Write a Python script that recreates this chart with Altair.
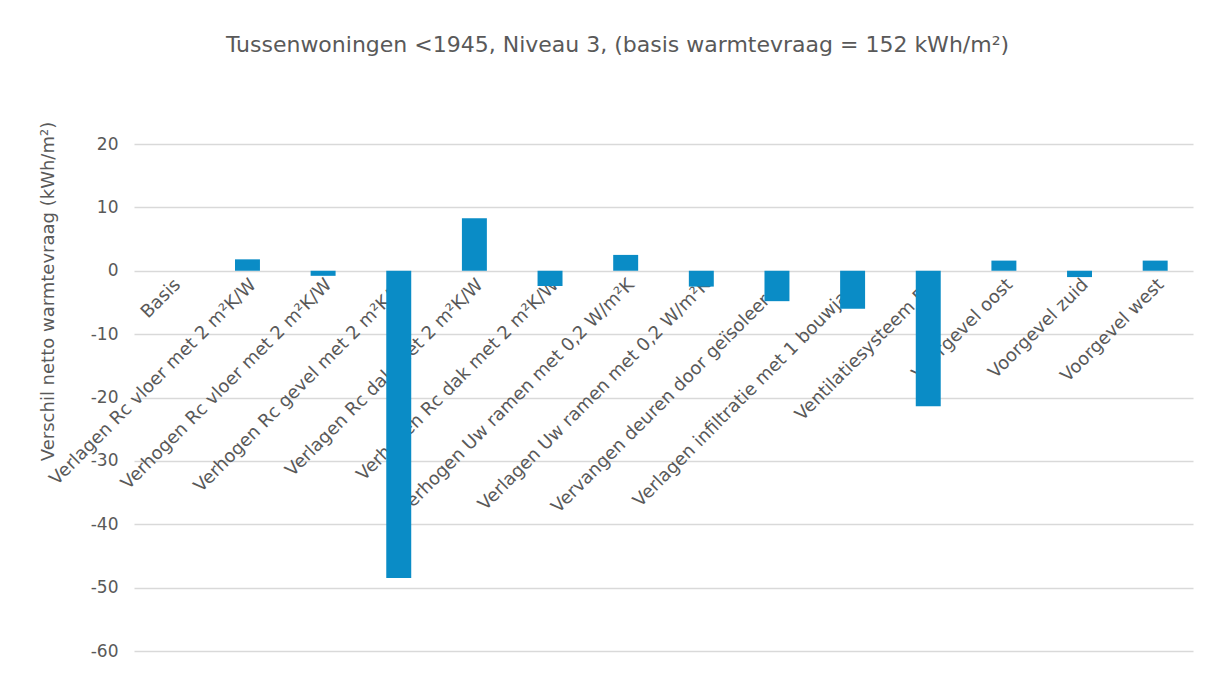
import altair as alt
import pandas as pd

categories = [
    "Basis",
    "Verlagen Rc vloer met 2 m²K/W",
    "Verhogen Rc vloer met 2 m²K/W",
    "Verhogen Rc gevel met 2 m²K/W",
    "Verlagen Rc dak met 2 m²K/W",
    "Verhogen Rc dak met 2 m²K/W",
    "Verhogen Uw ramen met 0,2 W/m²K",
    "Verlagen Uw ramen met 0,2 W/m²K",
    "Vervangen deuren door geïsoleerde",
    "Verlagen infiltratie met 1 bouwjaar",
    "Ventilatiesysteem D3",
    "Voorgevel oost",
    "Voorgevel zuid",
    "Voorgevel west",
]
values = [0, 1.8, -0.8, -48.5, 8.3, -2.4, 2.5, -2.5, -4.8, -6.0, -21.4, 1.6, -1.0, 1.6]
y_ticks = [-60, -50, -40, -30, -20, -10, 0, 10, 20]

df = pd.DataFrame({"maatregel": categories, "verschil": values})

W, H = 1059, 507
GRAY = "#595959"
FONT = "DejaVu Sans"

chart = alt.Chart(df).mark_bar(color="#0A8CC6").encode(
    x=alt.X(
        "maatregel:N",
        sort=None,
        scale=alt.Scale(paddingInner=0.67, paddingOuter=0.335),
        axis=alt.Axis(
            title=None,
            labelAngle=-45,
            labelAlign="right",
            labelBaseline="middle",
            offset=-H * 60 / 80,
            domain=False,
            ticks=False,
            labelPadding=11,
            labelOffset=6,
            labelFontSize=18,
            labelColor=GRAY,
            labelFont=FONT,
            labelLimit=0,
            labelOverlap=False,
        ),
    ),
    y=alt.Y(
        "verschil:Q",
        scale=alt.Scale(domain=[-60, 20], nice=False, zero=False),
        axis=alt.Axis(
            values=y_ticks,
            title="Verschil netto warmtevraag (kWh/m²)",
            grid=True,
            gridColor="#D9D9D9",
            gridWidth=1.5,
            domain=False,
            ticks=False,
            labelPadding=16,
            labelFontSize=17,
            labelColor=GRAY,
            labelFont=FONT,
            labelExpr="replace(datum.label, '−', '-')",
            titleFontSize=18,
            titleFontWeight="normal",
            titleColor=GRAY,
            titleFont=FONT,
            titleX=-86,
            titleY=147,
            titleAlign="center",
            titleBaseline="middle",
        ),
    ),
).properties(
    width=W,
    height=H,
    title=alt.TitleParams(
        "Tussenwoningen <1945, Niveau 3, (basis warmtevraag = 152 kWh/m²)",
        fontSize=22,
        fontWeight="normal",
        color=GRAY,
        font=FONT,
        anchor="middle",
        dx=-46,
        offset=64,
    ),
    autosize=alt.AutoSizeParams(type="none"),
    padding={"left": 126, "top": 136, "right": 10, "bottom": 10},
).configure(background="white").configure_view(strokeWidth=0, stroke="transparent")

chart.save("out.html", embed_options={"renderer": "svg", "actions": False})
